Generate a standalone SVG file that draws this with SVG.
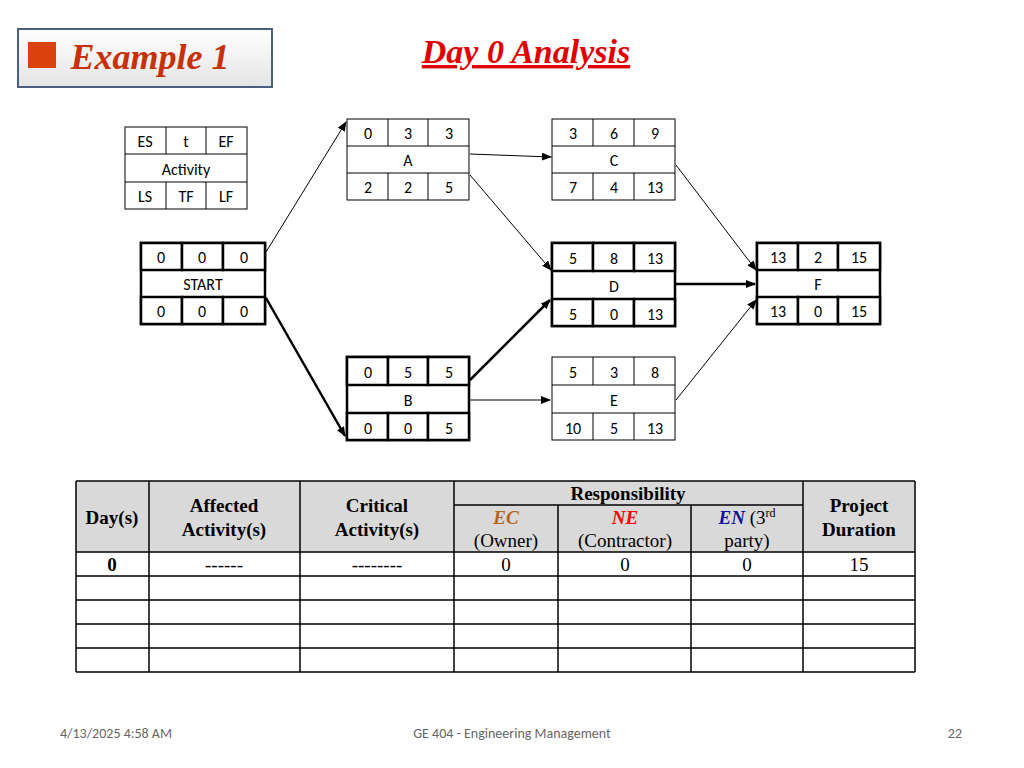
<svg xmlns="http://www.w3.org/2000/svg" width="1024" height="768" viewBox="0 0 1024 768">
<defs>
<marker id="ah" markerWidth="10" markerHeight="8" refX="9" refY="4" orient="auto" markerUnits="userSpaceOnUse"><path d="M0,0 L10,4 L0,8 z" fill="#000"/></marker>
<linearGradient id="bg" x1="0" y1="0" x2="0" y2="1"><stop offset="0" stop-color="#fff"/><stop offset="1" stop-color="#e4e4e4"/></linearGradient>
</defs>
<style>
.c{font-family:Calibri,Carlito,"Liberation Sans",sans-serif;font-size:16px;text-anchor:middle;fill:#000}
.t{font-family:"Liberation Serif",serif;font-size:19px;text-anchor:middle;fill:#000}
.b{font-weight:bold}
.n rect,.n line{fill:#fff;stroke:#000;stroke-width:1}
.k rect{stroke-width:2.5}
.cn line{stroke:#000;stroke-width:1;marker-end:url(#ah)}
.cn line.h{stroke-width:2.5}
.g line{stroke:#000;stroke-width:1.5}
</style>
<rect width="1024" height="768" fill="#fff"/>
<g id="title">
<rect x="18" y="29" width="254" height="58" fill="url(#bg)" stroke="#4a5e80" stroke-width="2"/>
<rect x="28" y="42" width="28" height="26" fill="#d9420b"/>
<text x="150" y="69" font-family="Liberation Serif,serif" font-size="36" font-weight="bold" font-style="italic" fill="#c8300a" text-anchor="middle">Example 1</text>
<text x="526" y="63" font-family="Liberation Serif,serif" font-size="34" font-weight="bold" font-style="italic" fill="#e00000" text-anchor="middle" text-decoration="underline">Day 0 Analysis</text>
</g>
<g id="legend" class="n">
<rect x="125" y="127" width="122" height="82"/>
<line x1="125" y1="154" x2="247" y2="154"/><line x1="125" y1="182" x2="247" y2="182"/>
<line x1="166" y1="127" x2="166" y2="154"/><line x1="206" y1="127" x2="206" y2="154"/>
<line x1="166" y1="182" x2="166" y2="209"/><line x1="206" y1="182" x2="206" y2="209"/>
<text class="c" x="145" y="147">ES</text><text class="c" x="186" y="147">t</text><text class="c" x="226" y="147">EF</text>
<text class="c" x="186" y="175">Activity</text>
<text class="c" x="145" y="202">LS</text><text class="c" x="186" y="202">TF</text><text class="c" x="226" y="202">LF</text>
</g>
<g id="node-start" class="n k">
<rect x="141" y="243" width="124" height="81"/>
<rect x="141" y="243" width="41" height="27"/><rect x="182" y="243" width="41" height="27"/><rect x="223" y="243" width="42" height="27"/>
<rect x="141" y="297" width="41" height="27"/><rect x="182" y="297" width="41" height="27"/><rect x="223" y="297" width="42" height="27"/>
<text class="c" x="161" y="263">0</text><text class="c" x="202" y="263">0</text><text class="c" x="244" y="263">0</text>
<text class="c" x="203" y="290">START</text>
<text class="c" x="161" y="317">0</text><text class="c" x="202" y="317">0</text><text class="c" x="244" y="317">0</text>
</g>
<g id="node-a" class="n">
<rect x="347" y="119" width="122" height="81"/>
<line x1="347" y1="146" x2="469" y2="146"/><line x1="347" y1="173" x2="469" y2="173"/>
<line x1="388" y1="119" x2="388" y2="146"/><line x1="428" y1="119" x2="428" y2="146"/>
<line x1="388" y1="173" x2="388" y2="200"/><line x1="428" y1="173" x2="428" y2="200"/>
<text class="c" x="368" y="139">0</text><text class="c" x="408" y="139">3</text><text class="c" x="449" y="139">3</text>
<text class="c" x="408" y="166">A</text>
<text class="c" x="368" y="193">2</text><text class="c" x="408" y="193">2</text><text class="c" x="449" y="193">5</text>
</g>
<g id="node-c" class="n">
<rect x="552" y="119" width="123" height="81"/>
<line x1="552" y1="146" x2="675" y2="146"/><line x1="552" y1="173" x2="675" y2="173"/>
<line x1="593" y1="119" x2="593" y2="146"/><line x1="634" y1="119" x2="634" y2="146"/>
<line x1="593" y1="173" x2="593" y2="200"/><line x1="634" y1="173" x2="634" y2="200"/>
<text class="c" x="573" y="139">3</text><text class="c" x="614" y="139">6</text><text class="c" x="655" y="139">9</text>
<text class="c" x="614" y="166">C</text>
<text class="c" x="573" y="193">7</text><text class="c" x="614" y="193">4</text><text class="c" x="655" y="193">13</text>
</g>
<g id="node-d" class="n k">
<rect x="552" y="243" width="123" height="83"/>
<rect x="552" y="243" width="41" height="28"/><rect x="593" y="243" width="41" height="28"/><rect x="634" y="243" width="41" height="28"/>
<rect x="552" y="299" width="41" height="27"/><rect x="593" y="299" width="41" height="27"/><rect x="634" y="299" width="41" height="27"/>
<text class="c" x="573" y="264">5</text><text class="c" x="614" y="264">8</text><text class="c" x="655" y="264">13</text>
<text class="c" x="614" y="292">D</text>
<text class="c" x="573" y="320">5</text><text class="c" x="614" y="320">0</text><text class="c" x="655" y="320">13</text>
</g>
<g id="node-f" class="n k">
<rect x="757" y="243" width="123" height="81"/>
<rect x="757" y="243" width="41" height="27"/><rect x="798" y="243" width="40" height="27"/><rect x="838" y="243" width="42" height="27"/>
<rect x="757" y="297" width="41" height="27"/><rect x="798" y="297" width="40" height="27"/><rect x="838" y="297" width="42" height="27"/>
<text class="c" x="778" y="263">13</text><text class="c" x="818" y="263">2</text><text class="c" x="859" y="263">15</text>
<text class="c" x="818" y="290">F</text>
<text class="c" x="778" y="317">13</text><text class="c" x="818" y="317">0</text><text class="c" x="859" y="317">15</text>
</g>
<g id="node-b" class="n k">
<rect x="347" y="357" width="122" height="83"/>
<rect x="347" y="357" width="41" height="28"/><rect x="388" y="357" width="40" height="28"/><rect x="428" y="357" width="41" height="28"/>
<rect x="347" y="413" width="41" height="27"/><rect x="388" y="413" width="40" height="27"/><rect x="428" y="413" width="41" height="27"/>
<text class="c" x="368" y="378">0</text><text class="c" x="408" y="378">5</text><text class="c" x="449" y="378">5</text>
<text class="c" x="408" y="406">B</text>
<text class="c" x="368" y="434">0</text><text class="c" x="408" y="434">0</text><text class="c" x="449" y="434">5</text>
</g>
<g id="node-e" class="n">
<rect x="552" y="357" width="123" height="83"/>
<line x1="552" y1="385" x2="675" y2="385"/><line x1="552" y1="413" x2="675" y2="413"/>
<line x1="593" y1="357" x2="593" y2="385"/><line x1="634" y1="357" x2="634" y2="385"/>
<line x1="593" y1="413" x2="593" y2="440"/><line x1="634" y1="413" x2="634" y2="440"/>
<text class="c" x="573" y="378">5</text><text class="c" x="614" y="378">3</text><text class="c" x="655" y="378">8</text>
<text class="c" x="614" y="406">E</text>
<text class="c" x="573" y="434">10</text><text class="c" x="614" y="434">5</text><text class="c" x="655" y="434">13</text>
</g>
<g id="connectors" class="cn">
<line x1="266" y1="252" x2="346" y2="122"/>
<line class="h" x1="266" y1="298" x2="345" y2="436"/>
<line x1="470" y1="154" x2="551" y2="157"/>
<line x1="470" y1="175" x2="551" y2="270"/>
<line class="h" x1="470" y1="380" x2="550" y2="300"/>
<line x1="470" y1="400" x2="550" y2="400"/>
<line x1="676" y1="165" x2="756" y2="270"/>
<line class="h" x1="676" y1="284" x2="755" y2="284"/>
<line x1="676" y1="400" x2="756" y2="300"/>
</g>
<g id="table">
<rect x="76" y="481" width="839" height="71" fill="#d9d9d9"/>
<g class="g">
<line x1="76" y1="481" x2="915" y2="481"/><line x1="76" y1="552" x2="915" y2="552"/>
<line x1="76" y1="576" x2="915" y2="576"/><line x1="76" y1="600" x2="915" y2="600"/>
<line x1="76" y1="624" x2="915" y2="624"/><line x1="76" y1="648" x2="915" y2="648"/>
<line x1="76" y1="672" x2="915" y2="672"/><line x1="454" y1="505" x2="803" y2="505"/>
<line x1="76" y1="481" x2="76" y2="672"/><line x1="149" y1="481" x2="149" y2="672"/>
<line x1="300" y1="481" x2="300" y2="672"/><line x1="454" y1="481" x2="454" y2="672"/>
<line x1="558" y1="505" x2="558" y2="672"/><line x1="691" y1="505" x2="691" y2="672"/>
<line x1="803" y1="481" x2="803" y2="672"/><line x1="915" y1="481" x2="915" y2="672"/>
</g>
<text class="t b" x="112" y="524">Day(s)</text>
<text class="t b" x="224" y="512">Affected</text><text class="t b" x="224" y="536">Activity(s)</text>
<text class="t b" x="377" y="512">Critical</text><text class="t b" x="377" y="536">Activity(s)</text>
<text class="t b" x="628" y="500">Responsibility</text>
<text class="t b" x="859" y="512">Project</text><text class="t b" x="859" y="536">Duration</text>
<text class="t b" x="506" y="524" style="font-style:italic;fill:#b5651d">EC</text>
<text class="t" x="506" y="547">(Owner)</text>
<text class="t b" x="625" y="524" style="font-style:italic;fill:#ff0000">NE</text>
<text class="t" x="625" y="547">(Contractor)</text>
<text class="t" x="747" y="524"><tspan style="font-weight:bold;font-style:italic;fill:#1010a0">EN</tspan> (3<tspan font-size="12" dy="-7">rd</tspan></text>
<text class="t" x="747" y="547">party)</text>
<text class="t b" x="112" y="571">0</text>
<text class="t" x="224" y="571">------</text>
<text class="t" x="377" y="571">--------</text>
<text class="t" x="506" y="571">0</text><text class="t" x="625" y="571">0</text><text class="t" x="747" y="571">0</text><text class="t" x="859" y="571">15</text>
</g>
<g id="footer" font-family="Calibri,Carlito,'Liberation Sans',sans-serif" font-size="14" fill="#666">
<text x="60" y="738">4/13/2025 4:58 AM</text>
<text x="512" y="738" text-anchor="middle">GE 404 - Engineering Management</text>
<text x="962" y="738" text-anchor="end">22</text>
</g>
</svg>
